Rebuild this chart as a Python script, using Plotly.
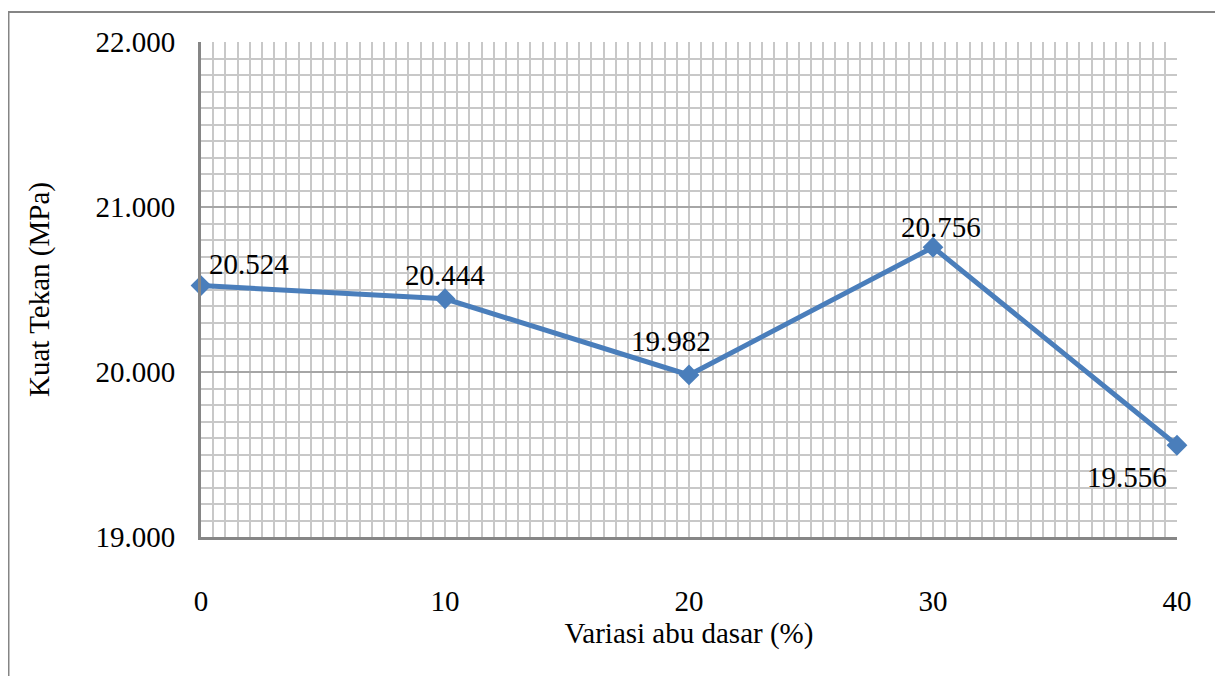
import plotly.graph_objects as go

variasi = [0, 10, 20, 30, 40]
kuat_tekan = [20.524, 20.444, 19.982, 20.756, 19.556]
labels = ["20.524", "20.444", "19.982", "20.756", "19.556"]
y_ticks = [19, 20, 21, 22]
y_tick_text = ["19.000", "20.000", "21.000", "22.000"]

FONT = "Liberation Serif, Times New Roman, serif"
LINE = "#4A7EBB"
FS = 29

fig = go.Figure()
fig.add_trace(go.Scatter(
    x=variasi, y=kuat_tekan, mode="lines+markers",
    line=dict(color=LINE, width=5),
    marker=dict(symbol="diamond", size=16, color=LINE),
    cliponaxis=False, showlegend=False,
))

shifts = [(48, 22), (0, 24), (-18, 34), (8, 20), (-50, -32)]
for xv, yv, t, (dx, dy) in zip(variasi, kuat_tekan, labels, shifts):
    fig.add_annotation(x=xv, y=yv, text=t, showarrow=False,
                       xshift=dx, yshift=dy,
                       font=dict(family=FONT, size=FS, color="#000"))

grid_minor = "#C8C8C8"
fig.update_xaxes(
    range=[0, 40], tickvals=variasi, ticktext=[str(v) for v in variasi],
    showgrid=True, gridcolor=grid_minor, gridwidth=2,
    minor=dict(dtick=0.5, showgrid=True, gridcolor=grid_minor, gridwidth=2),
    showline=True, linecolor="#868686", linewidth=3,
    ticks="", ticklabelstandoff=36, zeroline=False,
    tickfont=dict(family=FONT, size=FS, color="#000"),
    title=dict(text="Variasi abu dasar (%)", standoff=6,
               font=dict(family=FONT, size=FS, color="#000")),
)
fig.update_yaxes(
    range=[19, 22], tickvals=y_ticks, ticktext=y_tick_text,
    showgrid=True, gridcolor="#A6A6A6", gridwidth=2,
    minor=dict(dtick=0.1, showgrid=True, gridcolor=grid_minor, gridwidth=2),
    showline=True, linecolor="#868686", linewidth=3,
    ticks="", ticklabelstandoff=17, zeroline=False,
    tickfont=dict(family=FONT, size=FS, color="#000"),
    title=dict(text="Kuat Tekan (MPa)", standoff=38,
               font=dict(family=FONT, size=FS, color="#000")),
)

# outer chart border
fig.add_shape(type="rect", xref="paper", yref="paper",
              x0=(8.5 - 201) / 976, x1=(1220 - 201) / 976,
              y0=(537 - 700) / 495, y1=(537 - 12) / 495,
              line=dict(color="#858585", width=2), layer="below")

fig.update_layout(
    width=1215, height=668,
    margin=dict(l=193, r=46, t=34, b=139),
    plot_bgcolor="white", paper_bgcolor="white",
)
fig.write_html("out.html")
